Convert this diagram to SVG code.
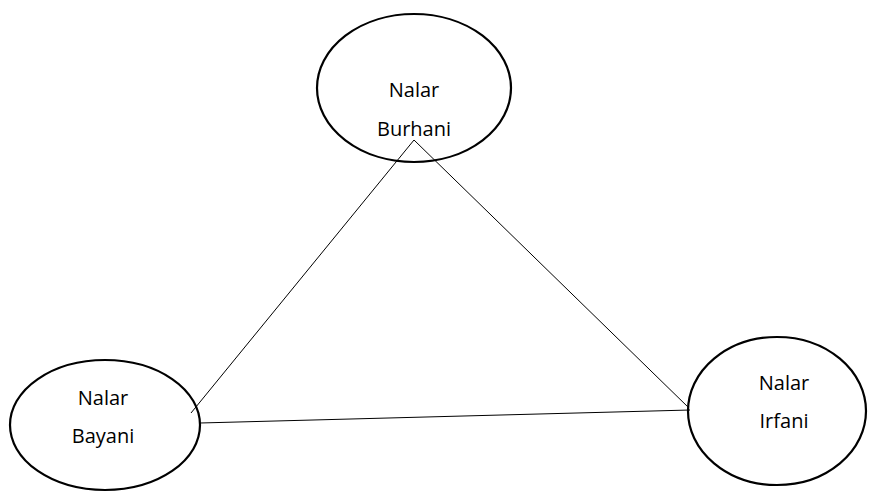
<svg xmlns="http://www.w3.org/2000/svg" width="869" height="497" viewBox="0 0 869 497">
<style>
.node ellipse{fill:#fff;stroke:#000;stroke-width:2.2}
.node text{font-family:"Open Sans","Liberation Sans",sans-serif;font-size:20px;fill:#000;text-anchor:middle}
.conn line{stroke:#000;stroke-width:1}
</style>
<rect width="869" height="497" fill="#fff"/>
<g id="burhani" class="node">
<ellipse cx="414" cy="88" rx="97" ry="74"/>
<text x="414" y="97">Nalar</text>
<text x="414" y="136">Burhani</text>
</g>
<g id="bayani" class="node">
<ellipse cx="105" cy="425" rx="95" ry="65"/>
<text x="103" y="405">Nalar</text>
<text x="103" y="443">Bayani</text>
</g>
<g id="irfani" class="node">
<ellipse cx="777" cy="411" rx="89" ry="74"/>
<text x="784" y="390">Nalar</text>
<text x="784" y="428">Irfani</text>
</g>
<g id="connectors" class="conn">
<line x1="414" y1="140" x2="191" y2="413"/>
<line x1="414" y1="140" x2="689" y2="408"/>
<line x1="200" y1="423" x2="690" y2="410"/>
</g>
</svg>
